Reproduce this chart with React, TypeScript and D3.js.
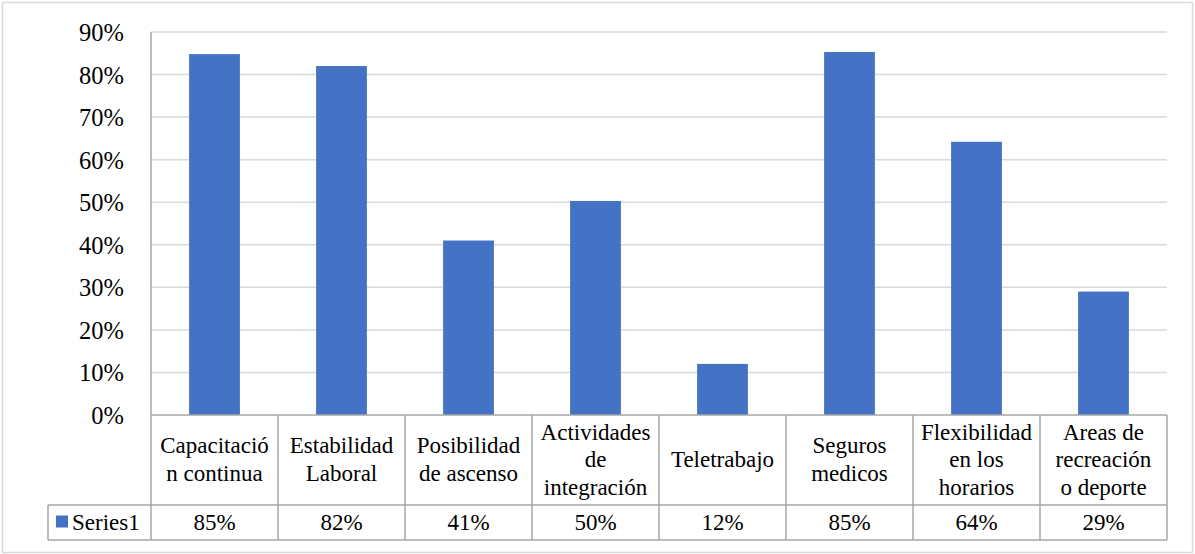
import React from "react";
import * as d3 from "d3";

const categories: string[][] = [
  ["Capacitació", "n continua"],
  ["Estabilidad", "Laboral"],
  ["Posibilidad", "de ascenso"],
  ["Actividades", "de", "integración"],
  ["Teletrabajo"],
  ["Seguros", "medicos"],
  ["Flexibilidad", "en los", "horarios"],
  ["Areas de", "recreación", "o deporte"],
];
const values = [0.848, 0.82, 0.41, 0.503, 0.12, 0.853, 0.642, 0.29];
const valueLabels = ["85%", "82%", "41%", "50%", "12%", "85%", "64%", "29%"];
const seriesName = "Series1";
const yTicks = [0, 0.1, 0.2, 0.3, 0.4, 0.5, 0.6, 0.7, 0.8, 0.9];

const W = 1195;
const H = 554;
const left = 151;
const right = 1167;
const top = 32;
const bottom = 415;
const headerBottom = 505;
const tableBottom = 540;
const legendLeft = 48;
const font = "Liberation Serif, Tinos, Times New Roman, DejaVu Serif, serif";
const blue = "#4472C4";
const lineCol = "#a6a6a6";

export default function App() {
  const x = d3
    .scaleBand<number>()
    .domain(d3.range(categories.length))
    .range([left, right])
    .paddingInner(0)
    .paddingOuter(0);
  const y = d3.scaleLinear().domain([0, 0.9]).range([bottom, top]);
  const bw = x.bandwidth();
  const barW = bw * 0.4;
  const headerCenter = (bottom + headerBottom) / 2;
  const lineH = 27.5;
  const ts = { fontFamily: font };

  return (
    <svg
      width={W}
      height={H}
      style={{ position: "absolute", left: 0, top: 0, display: "block", fontFamily: font }}
    >
      <rect x={0} y={0} width={W} height={H} fill="#fff" />
      <rect x={2.5} y={2.5} width={W - 5} height={H - 4} fill="none" stroke="#d9d9d9" strokeWidth={1.5} />
      {yTicks.map((t) => (
        <g key={t}>
          {t > 0 && (
            <line x1={left} x2={right} y1={y(t)} y2={y(t)} stroke="#d9d9d9" strokeWidth={1.5} />
          )}
          <text x={124} y={y(t) + 9} textAnchor="end" fontSize={24.5} fill="#000" style={ts}>
            {d3.format(".0%")(t)}
          </text>
        </g>
      ))}
      {values.map((v, i) => (
        <rect
          key={i}
          x={(x(i) as number) + (bw - barW) / 2}
          y={y(v)}
          width={barW}
          height={bottom - y(v)}
          fill={blue}
        />
      ))}
      <line x1={left} x2={left} y1={top} y2={tableBottom} stroke={lineCol} strokeWidth={1.5} />
      <line x1={left} x2={right} y1={bottom} y2={bottom} stroke={lineCol} strokeWidth={1.5} />
      <line x1={legendLeft} x2={right} y1={headerBottom} y2={headerBottom} stroke={lineCol} strokeWidth={1.5} />
      <line x1={legendLeft} x2={right} y1={tableBottom} y2={tableBottom} stroke={lineCol} strokeWidth={1.5} />
      <line x1={legendLeft} x2={legendLeft} y1={headerBottom} y2={tableBottom} stroke={lineCol} strokeWidth={1.5} />
      {categories.map((c, i) => {
        const x1 = (x(i) as number) + bw;
        return <line key={i} x1={x1} x2={x1} y1={bottom} y2={tableBottom} stroke={lineCol} strokeWidth={1.5} />;
      })}
      {categories.map((lines, i) => {
        const cx = (x(i) as number) + bw / 2;
        const first = headerCenter + 7 - ((lines.length - 1) * lineH) / 2;
        return (
          <text key={i} x={cx} textAnchor="middle" fontSize={23} fill="#000" style={ts}>
            {lines.map((l, j) => (
              <tspan key={j} x={cx} y={first + j * lineH}>
                {l}
              </tspan>
            ))}
          </text>
        );
      })}
      {valueLabels.map((l, i) => (
        <text
          key={i}
          x={(x(i) as number) + bw / 2}
          y={(headerBottom + tableBottom) / 2 + 7.5}
          textAnchor="middle"
          fontSize={23}
          fill="#000"
          style={ts}
        >
          {l}
        </text>
      ))}
      <rect x={56} y={515.5} width={12} height={12} fill={blue} />
      <text x={72} y={530} fontSize={23} fill="#000" style={ts}>
        {seriesName}
      </text>
    </svg>
  );
}
